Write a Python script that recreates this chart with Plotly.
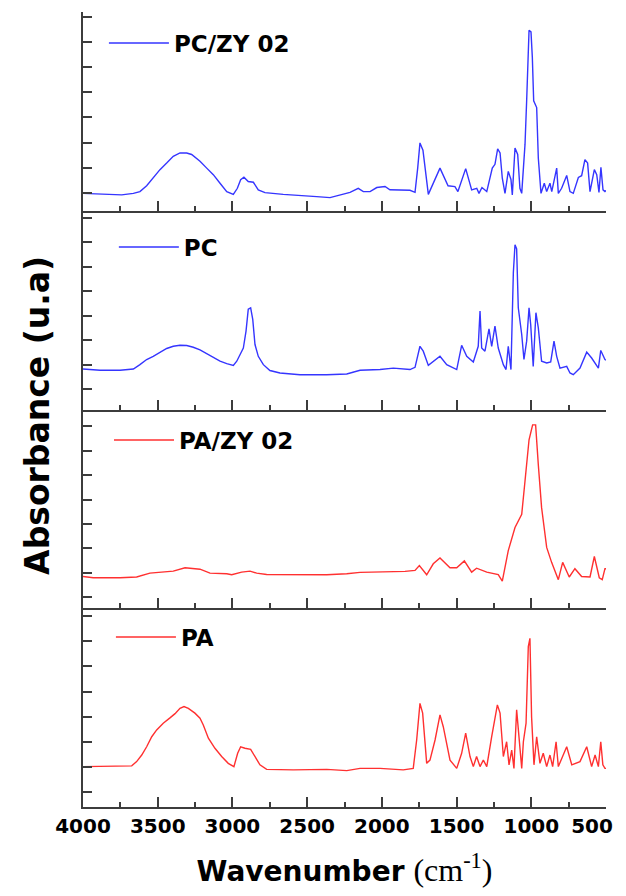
import plotly.graph_objects as go
from plotly.subplots import make_subplots

# ---- data (wavenumber cm^-1, absorbance in arbitrary units) ----
pczy_wn = [4000, 3886, 3741, 3663, 3619, 3574, 3530, 3485, 3440, 3396, 3351, 3306, 3273, 3217, 3172,
           3128, 3083, 3038, 2994, 2967, 2945, 2923, 2894, 2860, 2827, 2782, 2660, 2548, 2436, 2347,
           2280, 2213, 2158, 2124, 2079, 2034, 1979, 1946, 1812, 1778, 1760, 1745, 1725,
           1689, 1611, 1557, 1511, 1491, 1439, 1399, 1365, 1350, 1330, 1298, 1261, 1243, 1225, 1209,
           1194, 1176, 1154, 1136, 1127, 1109, 1091, 1076, 1064, 1042, 1031, 1015, 1002, 993, 984,
           964, 953, 935, 913, 897, 875, 863, 830, 819, 797, 763, 741, 719, 685, 663, 641, 623, 607,
           578, 562, 547, 534, 520, 507, 500]
pczy_abs = [-0.01, -0.03, -0.07, -0.01, 0.06, 0.29, 0.59, 0.93, 1.19, 1.46, 1.59, 1.59, 1.53, 1.26, 0.99,
            0.73, 0.39, 0.06, -0.05, 0.19, 0.53, 0.63, 0.46, 0.43, 0.13, 0.02, -0.05, -0.11, -0.14, -0.18,
            -0.07, 0.03, 0.19, 0.06, 0.06, 0.22, 0.26, 0.13, 0.11, 0.03, 1.0, 1.99, 1.7,
            -0.05, 0.99, 0.29, 0.26, 0.06, 0.97, 0.13, 0.19, -0.01, 0.22, 0.06, 0.99, 1.14, 1.75, 1.59,
            0.59, -0.01, 0.86, 0.54, -0.07, 1.79, 1.53, 0.19, -0.01, 1.93, 3.66, 6.46, 6.39, 5.39, 3.66,
            3.39, 1.39, -0.01, 0.39, 0.06, 0.39, 0.06, 0.99, -0.01, 0.19, 0.7, 0.06, -0.01, 0.62, 0.69,
            1.33, 1.19, 0.06, 0.93, 0.73, 0.03, 1.02, 0.13, 0.06, 0.1]

pc_wn = [4000, 3886, 3752, 3663, 3619, 3574, 3530, 3485, 3440, 3396, 3351, 3306, 3262, 3217, 3172,
         3128, 3083, 3038, 2994, 2971, 2949, 2927, 2909, 2894, 2878, 2864, 2849, 2827, 2793, 2749,
         2682, 2548, 2369, 2235, 2146, 2012, 1923, 1812, 1778, 1745, 1723,
         1689, 1611, 1566, 1499, 1466, 1432, 1388, 1355, 1343, 1332, 1310, 1283, 1265, 1243, 1221,
         1187, 1169, 1154, 1136, 1120, 1109, 1098, 1087, 1064, 1049, 1031, 1015, 1004, 987, 969,
         953, 931, 897, 870, 848, 830, 808, 763, 741, 719, 674, 629, 596, 551, 535, 507, 500]
pc_abs = [0.83, 0.78, 0.78, 0.83, 1.01, 1.22, 1.35, 1.52, 1.67, 1.76, 1.8, 1.79, 1.72, 1.61, 1.45,
          1.28, 1.15, 1.05, 0.98, 1.15, 1.45, 1.69, 2.38, 3.27, 3.33, 2.86, 1.83, 1.35, 1.01, 0.77,
          0.67, 0.6, 0.6, 0.63, 0.78, 0.81, 0.87, 0.81, 0.9, 1.76, 1.56,
          0.98, 1.35, 1.01, 0.81, 1.8, 1.35, 1.12, 1.76, 3.2, 1.69, 1.56, 2.47, 1.76, 2.58, 1.69,
          1.01, 0.81, 1.76, 0.81, 4.77, 5.9, 5.73, 3.33, 2.24, 1.22, 1.97, 3.33, 2.65, 0.94, 3.13,
          2.51, 1.15, 1.08, 1.12, 1.97, 1.35, 0.87, 0.94, 0.67, 0.6, 0.87, 1.52, 1.28, 0.87, 1.59,
          1.22, 1.2]

pazy_wn = [4000, 3931, 3752, 3641, 3552, 3485, 3396, 3317, 3217, 3150, 3038, 3005, 2938, 2882, 2838,
           2771, 2369, 2235, 2146, 2068, 1845, 1778, 1749, 1700, 1656, 1611, 1544, 1499, 1448, 1399,
           1366, 1298, 1221, 1194, 1154, 1109, 1064, 1042, 1015, 991, 971, 953, 931, 897, 864, 819,
           790, 746, 708, 663, 607, 578, 545, 525, 507, 500]
pazy_abs = [0.85, 0.8, 0.8, 0.83, 0.99, 1.03, 1.07, 1.21, 1.15, 0.99, 0.96, 0.92, 1.03, 1.07, 0.99,
            0.93, 0.92, 0.96, 1.02, 1.03, 1.06, 1.1, 1.3, 0.92, 1.37, 1.61, 1.21, 1.21, 1.49, 1.03,
            1.19, 1.03, 0.93, 0.66, 1.91, 2.86, 3.4, 4.76, 6.45, 7.06, 7.06, 5.43, 3.67, 2.04, 1.43, 0.72,
            1.43, 0.83, 1.17, 0.85, 0.83, 1.67, 0.8, 0.72, 1.17, 1.17]

pa_wn = [4000, 3819, 3674, 3641, 3607, 3574, 3540, 3507, 3463, 3418, 3384, 3351, 3324, 3295, 3251,
         3217, 3195, 3161, 3117, 3072, 3028, 2990, 2965, 2945, 2916, 2878, 2849, 2816, 2771, 2593,
         2369, 2235, 2146, 2012, 1857, 1790, 1767, 1745, 1727,
         1700, 1678, 1644, 1611, 1589, 1544, 1499, 1466, 1439, 1410, 1388, 1366, 1343, 1321, 1298,
         1265, 1227, 1209, 1187, 1165, 1149, 1131, 1116, 1098, 1082, 1064, 1053, 1035, 1020, 1009,
         998, 982, 964, 942, 920, 897, 875, 857, 834, 819, 763, 729, 674, 629, 596, 573, 551, 535,
         521, 507, 500]
pa_abs = [1.01, 1.04, 1.04, 1.21, 1.47, 1.8, 2.2, 2.47, 2.74, 2.95, 3.12, 3.33, 3.4, 3.33, 3.14,
          2.94, 2.67, 2.14, 1.74, 1.41, 1.14, 1.01, 1.54, 1.8, 1.74, 1.7, 1.41, 1.08, 0.9, 0.88,
          0.9, 0.85, 0.94, 0.94, 0.88, 0.94, 2.07, 3.53, 3.14,
          1.14, 1.27, 2.07, 3.07, 2.6, 1.27, 0.94, 1.54, 2.34, 1.41, 1.01, 1.41, 1.01, 1.27, 1.01,
          2.2, 3.47, 3.14, 1.41, 2.0, 1.08, 1.67, 0.94, 3.27, 2.2, 0.94, 2.0, 2.74, 5.79, 6.12,
          3.0, 1.08, 2.2, 1.14, 1.54, 1.01, 1.47, 1.01, 2.0, 1.01, 1.8, 1.08, 1.21, 1.8, 1.01, 1.47,
          1.01, 2.0, 1.08, 0.94, 0.94]

series_names = ["PC/ZY 02", "PC", "PA/ZY 02", "PA"]
series_colors = ["#3535ff", "#3535ff", "#ff3030", "#ff3030"]
series_data = [(pczy_wn, pczy_abs), (pc_wn, pc_abs), (pazy_wn, pazy_abs), (pa_wn, pa_abs)]
y_ranges = [[-0.7, 7.18], [-0.82, 7.29], [-0.45, 7.69], [-0.6, 7.32]]
x_ticks = [4000, 3500, 3000, 2500, 2000, 1500, 1000, 500]
x_tick_labels = ["4000", "3500", "3000", "2500", "2000", "1500", "1000", "500"]
# the last label sits at the page edge; pad it so it stays fully visible
x_tick_text = x_tick_labels[:-1] + [x_tick_labels[-1] + "\u2007\u2007"]

# legend placement (paper coords)
legend_pos = [(0.0400, 0.961), (0.0590, 0.7044), (0.0497, 0.4616), (0.0534, 0.2138)]

AX = "#3c3c3c"
FONT = "DejaVu Sans"

fig = make_subplots(rows=4, cols=1, shared_xaxes=True, vertical_spacing=0)

legend_layout = {}
for i, ((wn, ab), name, col) in enumerate(zip(series_data, series_names, series_colors)):
    lname = "legend" if i == 0 else f"legend{i+1}"
    fig.add_trace(go.Scatter(x=wn, y=ab, mode="lines", name=name,
                             line=dict(color=col, width=1.4), legend=lname),
                  row=i + 1, col=1)
    lx, ly = legend_pos[i]
    legend_layout[lname] = dict(x=lx, y=ly, xanchor="left", yanchor="middle",
                                bgcolor="rgba(0,0,0,0)", borderwidth=0, itemwidth=60,
                                font=dict(family=FONT, size=23, color="black", weight="bold"))

for i in range(4):
    fig.update_yaxes(range=y_ranges[i], showline=True, linecolor=AX, linewidth=2,
                     ticks="inside", ticklen=9, tickwidth=1.5, tickcolor=AX, automargin=False,
                     tick0=0, dtick=1, showticklabels=False, showgrid=False, zeroline=False,
                     row=i + 1, col=1)
    fig.update_xaxes(range=[4000, 500], showline=True, linecolor=AX, linewidth=2,
                     ticks="inside", ticklen=10, tickwidth=1.5, tickcolor=AX, automargin=False,
                     tickvals=x_ticks, ticktext=x_tick_text, showgrid=False, zeroline=False,
                     minor=dict(ticks="inside", ticklen=5, tickwidth=1.5, tickcolor=AX,
                                dtick=250, tick0=0, showgrid=False),
                     row=i + 1, col=1)

fig.update_xaxes(showticklabels=True, ticklabeloverflow="allow",
                 tickfont=dict(family=FONT, size=20, color="black", weight="bold"),
                 title=dict(text="<b>Wavenumber</b> <span style=\"font-family:'Liberation Serif';font-weight:normal;font-size:32px\">(cm<sup>-1</sup>)</span>",
                            font=dict(family=FONT, size=28, color="black"), standoff=26),
                 row=4, col=1)

fig.add_annotation(text="<b>Absorbance (u.a)</b>", textangle=-90, xref="paper", yref="paper",
                   x=-0.086, y=0.492, xanchor="center", yanchor="middle", showarrow=False,
                   font=dict(family=FONT, size=33, color="black"))

# the page body adds an 8 px offset, so margins are shifted to keep the plot area in place
fig.update_layout(width=618, height=880, margin=dict(l=75, r=20, t=4, b=81, autoexpand=False),
                  plot_bgcolor="white", paper_bgcolor="white", showlegend=True,
                  **legend_layout)

fig.write_html("out.html")
